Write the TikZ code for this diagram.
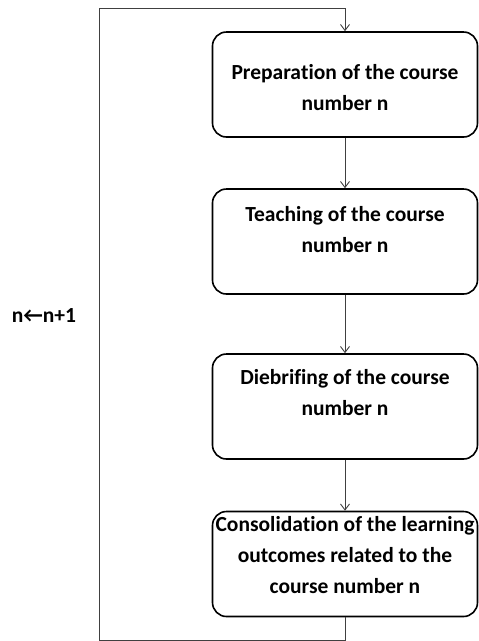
\documentclass[tikz,border=0pt]{standalone}
\usepackage{fontspec}
\setmainfont{Carlito}[Ligatures={NoCommon}]
\usetikzlibrary{arrows.meta}

\begin{document}
\begin{tikzpicture}[x=1pt,y=-1pt,stage/.style={draw,line width=1.6pt,rounded corners=14pt,minimum width=265pt,minimum height=105pt,inner sep=0pt},caption/.style={align=center,font=\fontsize{21.5}{31}\selectfont\bfseries,inner sep=0pt},flow/.style={line width=0.9pt,draw=black!75,-{Straight Barb[length=6pt,width=9pt]}}]
\useasboundingbox (0,0) rectangle (479,641);
\node[stage] (A) at (345,84.5) {};
\node[caption] (At) at (345,87.5) {Prepara\kern0pt tion of the course\\number n};
\node[stage] (B) at (345,241.5) {};
\node[caption] (Bt) at (345,230) {Teaching of the course\\number n};
\node[stage] (C) at (345,406.5) {};
\node[caption] (Ct) at (345,393) {Diebrifing of the course\\number n};
\node[stage] (D) at (345,564) {};
\node[caption] (Dt) at (345,555) {Consolida\kern0pt tion of the learning\\outcomes related to the\\course number n};
\coordinate (bottom) at (99,640);
\coordinate (top) at (99,8);
\draw[flow] (A) -- (B);
\draw[flow] (B) -- (C);
\draw[flow] (C) -- (D);
\draw[flow] (D.south) |- (bottom) -- (top) -| (A.north);
\node[caption] (N) at (44,316) {n←n+1};
\end{tikzpicture}
\end{document}
